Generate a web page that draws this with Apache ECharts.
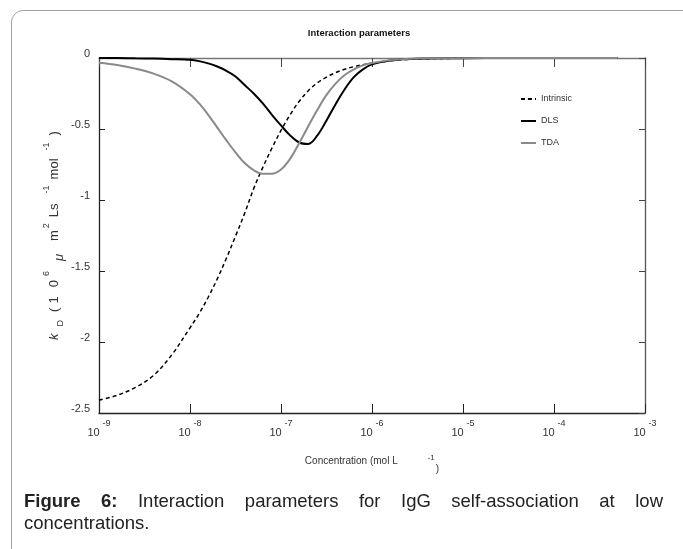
<!DOCTYPE html>
<html lang="en">
<head>
    <meta charset="UTF-8">
    <title>Interaction parameters</title>
    <script type="text/javascript" src="https://cdn.jsdelivr.net/npm/echarts@6/dist/echarts.min.js"></script>
    <style>
        body { margin: 0; background: #fff; }
        #frame { position: absolute; left: 11px; top: 10px; width: 800px; height: 700px;
                 border: 1px solid #a0a0a0; border-radius: 12px; }
        #chartmain { position: absolute; left: 0; top: 0; width: 683px; height: 549px; }
        #caption { position: absolute; left: 24px; top: 490px; width: 639px;
                   font: 18.5px 'Liberation Sans', Arial, sans-serif; line-height: 22px;
                   text-align: justify; color: #222; }
    </style>
</head>

<body>
<div id="frame"></div>
<div id="chartmain"></div>
<div id="caption"><b>Figure 6:</b> Interaction parameters for IgG self-association at low concentrations.</div>
<script>
    // log10 of concentration (mol/L)
    var logConc = [-9.0, -8.8, -8.6, -8.4, -8.2, -8.0, -7.9, -7.8, -7.7, -7.6, -7.5, -7.4, -7.3, -7.2, -7.1,
        -7.0, -6.9, -6.8, -6.7, -6.6, -6.5, -6.4, -6.3, -6.2, -6.1, -6.0, -5.8, -5.6, -5.4, -5.0, -4.5, -4.0, -3.3];
    var intrinsic = [-2.41, -2.375, -2.32, -2.235, -2.09, -1.90, -1.80, -1.685, -1.555, -1.41, -1.255, -1.095, -0.92, -0.77, -0.635,
        -0.51, -0.40, -0.305, -0.23, -0.175, -0.135, -0.103, -0.079, -0.061, -0.047, -0.036, -0.02, -0.01, -0.005, -0.002, 0, 0, 0];
    var dls = [0, 0, -0.002, -0.004, -0.008, -0.013, -0.022, -0.038, -0.06, -0.09, -0.13, -0.19, -0.25, -0.32, -0.40,
        -0.475, -0.545, -0.595, -0.605, -0.545, -0.44, -0.325, -0.22, -0.135, -0.08, -0.045, -0.018, -0.007, -0.003, -0.001, 0, 0, 0];
    var tda = [-0.034, -0.05, -0.075, -0.11, -0.165, -0.255, -0.32, -0.40, -0.49, -0.58, -0.665, -0.74, -0.79, -0.815, -0.815,
        -0.785, -0.71, -0.60, -0.48, -0.365, -0.26, -0.18, -0.12, -0.08, -0.052, -0.035, -0.015, -0.006, -0.002, -0.001, 0, 0, 0];
    var seriesNames = ['Intrinsic', 'DLS', 'TDA'];

    var REG = "'Liberation Sans', Arial, sans-serif";
    var txt = '#333';

    function pairs(ys) {
        return logConc.map(function (x, i) { return [x, ys[i]]; });
    }

    var option = {
        animation: false,
        title: {
            text: 'Interaction parameters',
            left: 354,
            textAlign: 'center',
            top: 23,
            textStyle: { fontSize: 9.5, fontWeight: 'bold', fontFamily: REG, color: '#111' }
        },
        legend: {
            data: seriesNames,
            orient: 'vertical',
            left: 515,
            top: 88,
            itemWidth: 15,
            itemHeight: 2,
            itemGap: 10,
            textStyle: { fontSize: 9, lineHeight: 12, fontFamily: REG, color: txt }
        },
        grid: { left: 99, right: 38, top: 58, bottom: 136 },
        xAxis: [
            {
                type: 'value', min: -9, max: -3, interval: 1, position: 'bottom',
                axisLine: { onZero: false, lineStyle: { color: '#222', width: 1.3 } },
                axisTick: { inside: true, length: 9, lineStyle: { color: '#222' } },
                splitLine: { show: false },
                axisLabel: {
                    margin: 10, color: txt,
                    formatter: function (v) { return '{b|10}{s|-' + Math.abs(v) + '}'; },
                    rich: {
                        b: { fontSize: 11, lineHeight: 12, padding: [8, 0, 0, 0], fontFamily: REG, color: txt },
                        s: { fontSize: 9, lineHeight: 10, padding: [0, 0, 10, 3], fontFamily: REG, color: txt }
                    }
                },
                name: '{a|Concentration (mol L}{s|-1}{p|)}',
                nameLocation: 'middle',
                nameGap: 42,
                nameTextStyle: {
                    rich: {
                        a: { fontSize: 10, lineHeight: 12, fontFamily: REG, color: txt },
                        s: { fontSize: 8, lineHeight: 10, padding: [0, 0, 6, 30], fontFamily: REG, color: txt },
                        p: { fontSize: 10, lineHeight: 12, padding: [16, 0, 0, 1], fontFamily: REG, color: txt }
                    }
                }
            },
            {
                type: 'value', min: -9, max: -3, interval: 1, position: 'top',
                axisLine: { onZero: false, lineStyle: { color: '#777', width: 1.3 } },
                axisTick: { inside: true, length: 9, lineStyle: { color: '#444' } },
                axisLabel: { show: false },
                splitLine: { show: false }
            }
        ],
        yAxis: [
            {
                type: 'value', min: -2.5, max: 0, interval: 0.5, position: 'left',
                axisLine: { onZero: false, lineStyle: { color: '#222', width: 1.3 } },
                axisTick: { inside: true, length: 6, lineStyle: { color: '#222' } },
                splitLine: { show: false },
                axisLabel: { margin: 9, verticalAlign: 'bottom', lineHeight: 8, fontSize: 11, fontFamily: REG, color: txt },
                name: '{k|k}{sub|D}{t|(}{t1|1}{t0|0}{sup6|6}{mu|μ}{m|m}{sup2|2}{ls|Ls}{supa|-1}{mol|mol}{supb|-1}{par|)}',
                nameLocation: 'middle',
                nameRotate: 90,
                nameGap: 38,
                nameMoveOverlap: false,
                nameTextStyle: {
                    rich: {
                        k: { fontSize: 13, lineHeight: 14, fontStyle: 'italic', fontFamily: REG, color: txt },
                        sub: { fontSize: 9, lineHeight: 10, padding: [14, 0, 0, 7], fontFamily: REG, color: txt },
                        t: { fontSize: 13, lineHeight: 14, padding: [0, 0, 0, 8], fontFamily: REG, color: txt },
                        t1: { fontSize: 13, lineHeight: 14, padding: [0, 0, 0, 4], fontFamily: REG, color: txt },
                        t0: { fontSize: 13, lineHeight: 14, padding: [0, 0, 0, 9], fontFamily: REG, color: txt },
                        sup6: { fontSize: 9, lineHeight: 10, padding: [0, 0, 14, 4], fontFamily: REG, color: txt },
                        mu: { fontSize: 13, lineHeight: 14, padding: [10, 0, 0, 10], fontStyle: 'italic', fontFamily: REG, color: txt },
                        m: { fontSize: 13, lineHeight: 14, padding: [0, 0, 0, 13], fontFamily: REG, color: txt },
                        sup2: { fontSize: 9, lineHeight: 10, padding: [0, 0, 14, 2], fontFamily: REG, color: txt },
                        ls: { fontSize: 13, lineHeight: 14, padding: [0, 0, 0, 6], fontFamily: REG, color: txt },
                        supa: { fontSize: 9, lineHeight: 10, padding: [0, 0, 14, 10], fontFamily: REG, color: txt },
                        mol: { fontSize: 13, lineHeight: 14, padding: [0, 0, 0, 6], fontFamily: REG, color: txt },
                        supb: { fontSize: 9, lineHeight: 10, padding: [0, 0, 14, 8], fontFamily: REG, color: txt },
                        par: { fontSize: 13, lineHeight: 14, padding: [0, 0, 0, 7], fontFamily: REG, color: txt }
                    }
                }
            },
            {
                type: 'value', min: -2.5, max: 0, interval: 0.5, position: 'right',
                axisLine: { onZero: false, lineStyle: { color: '#555', width: 1.3 } },
                axisTick: { inside: true, length: 6, lineStyle: { color: '#444' } },
                axisLabel: { show: false },
                splitLine: { show: false }
            }
        ],
        series: [
            {
                name: 'Intrinsic', type: 'line', data: pairs(intrinsic), symbol: 'none',
                smooth: 0.35, clip: false, z: 3,
                itemStyle: { color: '#000' },
                lineStyle: { color: '#000', width: 1.5, type: [4, 3] }
            },
            {
                name: 'DLS', type: 'line', data: pairs(dls), symbol: 'none',
                smooth: 0.35, clip: false, z: 4,
                itemStyle: { color: '#000' },
                lineStyle: { color: '#000', width: 2 }
            },
            {
                name: 'TDA', type: 'line', data: pairs(tda), symbol: 'none',
                smooth: 0.35, clip: false, z: 5,
                itemStyle: { color: '#8a8a8a' },
                lineStyle: { color: '#8a8a8a', width: 2 }
            }
        ]
    };

    var myChart = echarts.init(document.getElementById('chartmain'));
    myChart.setOption(option);
</script>
</body>
</html>
